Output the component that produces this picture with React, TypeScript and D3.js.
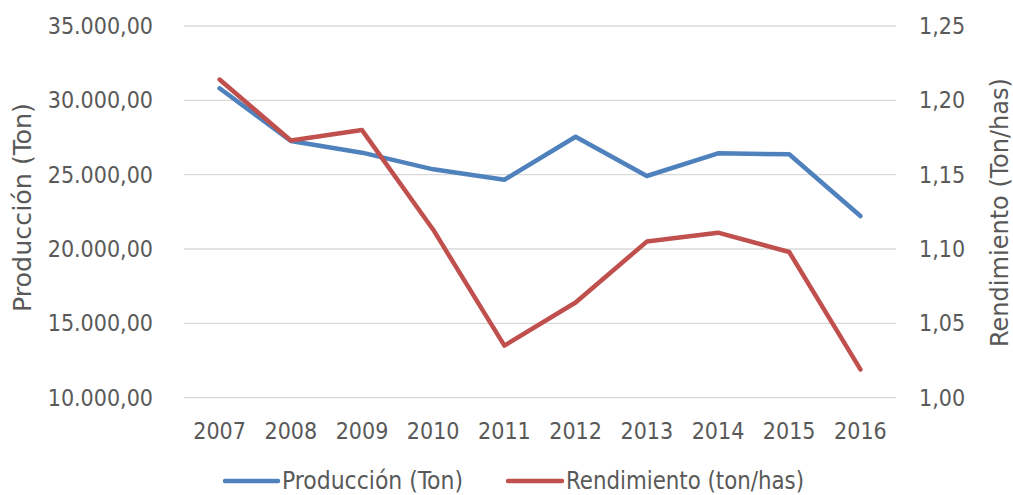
import React from "react";
import * as d3 from "d3";

const years = ["2007", "2008", "2009", "2010", "2011", "2012", "2013", "2014", "2015", "2016"];
const produccion = [30810, 27265, 26480, 25360, 24660, 27550, 24910, 26440, 26370, 22220];
const rendimiento = [1.214, 1.173, 1.18, 1.113, 1.035, 1.064, 1.105, 1.111, 1.098, 1.019];
const leftTicks = [10000, 15000, 20000, 25000, 30000, 35000];
const rightTicks = [1.0, 1.05, 1.1, 1.15, 1.2, 1.25];
const seriesNames = ["Producción (Ton)", "Rendimiento (ton/has)"];
const leftTitle = "Producción (Ton)";
const rightTitle = "Rendimiento (Ton/has)";

const W = 1013;
const H = 495;
const plot = { left: 184, right: 896, top: 26, bottom: 397.7 };
const BLUE = "#4F81BD";
const RED = "#C0504D";
const TEXT = "#595959";
const FONT = "'DejaVu Sans Condensed', 'DejaVu Sans', sans-serif";

const locale = d3.formatLocale({ decimal: ",", thousands: ".", grouping: [3], currency: ["", ""] });
const fmtLeft = locale.format(",.2f");
const fmtRight = locale.format(",.2f");

export default function App() {
  const x = d3.scaleBand<string>().domain(years).range([plot.left, plot.right]);
  const cx = (y: string) => (x(y) as number) + x.bandwidth() / 2;
  const yL = d3.scaleLinear().domain([10000, 35000]).range([plot.bottom, plot.top]);
  const yR = d3.scaleLinear().domain([1.0, 1.25]).range([plot.bottom, plot.top]);

  const lineL = d3.line<number>().x((_, i) => cx(years[i])).y((d) => yL(d));
  const lineR = d3.line<number>().x((_, i) => cx(years[i])).y((d) => yR(d));

  const legendY = 481;
  const legendItems = [
    { name: seriesNames[0], color: BLUE, x0: 225, x1: 278, len: 181 },
    { name: seriesNames[1], color: RED, x0: 508, x1: 562, len: 238 },
  ];

  return (
    <svg
      width={W}
      height={H}
      style={{ position: "fixed", left: 0, top: 0, background: "#fff" }}
      fontFamily={FONT}
      fontStretch="condensed"
    >
      <rect width={W} height={H} fill="#fff" />
      {leftTicks.map((t) => (
        <line key={"g" + t} x1={plot.left} x2={plot.right} y1={yL(t)} y2={yL(t)} stroke="#D9D9D9" strokeWidth={1.3} />
      ))}
      {leftTicks.map((t) => (
        <text key={"l" + t} x={153} y={yL(t)} dy="0.35em" textAnchor="end" fontSize={23} fill={TEXT}>
          {fmtLeft(t)}
        </text>
      ))}
      {rightTicks.map((t) => (
        <text key={"r" + t} x={919} y={yR(t)} dy="0.35em" textAnchor="start" fontSize={23} fill={TEXT}>
          {fmtRight(t)}
        </text>
      ))}
      {years.map((yv) => (
        <text key={yv} x={cx(yv)} y={431} dy="0.35em" textAnchor="middle" fontSize={23} fill={TEXT}>
          {yv}
        </text>
      ))}
      <text
        transform={`translate(23,207.5) rotate(-90)`}
        textAnchor="middle"
        dy="0.35em"
        fontSize={24}
        fill={TEXT}
        textLength={209}
        lengthAdjust="spacingAndGlyphs"
      >
        {leftTitle}
      </text>
      <text
        transform={`translate(1000,212.5) rotate(-90)`}
        textAnchor="middle"
        dy="0.35em"
        fontSize={24}
        fill={TEXT}
        textLength={269}
        lengthAdjust="spacingAndGlyphs"
      >
        {rightTitle}
      </text>
      <path d={lineL(produccion) || ""} fill="none" stroke={BLUE} strokeWidth={4.5} strokeLinejoin="round" strokeLinecap="round" />
      <path d={lineR(rendimiento) || ""} fill="none" stroke={RED} strokeWidth={4.5} strokeLinejoin="round" strokeLinecap="round" />
      {legendItems.map((it) => (
        <g key={it.name}>
          <line x1={it.x0} x2={it.x1} y1={legendY} y2={legendY} stroke={it.color} strokeWidth={4.5} strokeLinecap="round" />
          <text
            x={it.x1 + 4}
            y={legendY}
            dy="0.35em"
            fontSize={24}
            fill={TEXT}
            textLength={it.len}
            lengthAdjust="spacingAndGlyphs"
          >
            {it.name}
          </text>
        </g>
      ))}
    </svg>
  );
}
